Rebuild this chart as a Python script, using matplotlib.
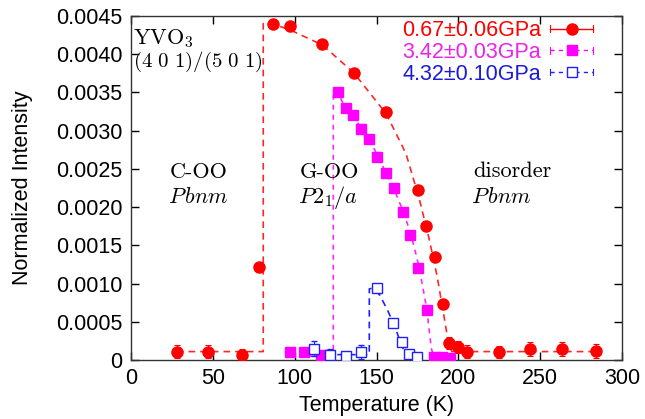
import numpy as np
import matplotlib
matplotlib.use("Agg")
import matplotlib.pyplot as plt
from matplotlib.lines import Line2D
from matplotlib.legend_handler import HandlerLine2D

plt.rcParams['mathtext.fontset'] = 'cm'
plt.rcParams['font.family'] = ['Liberation Sans', 'DejaVu Sans']

# ---------------- data ----------------
red_T = [28, 47, 68, 78, 86.5, 97, 117, 136, 156, 175.5, 180.5, 185.5, 190.5, 194.5, 199.5, 205, 225, 244, 263.5, 284]
red_I = [0.00011, 0.00011, 0.00007, 0.00122, 0.00440, 0.00437, 0.00414, 0.00376, 0.00325, 0.00222,
         0.00175, 0.00135, 0.00073, 0.00022, 0.00017, 0.00011, 0.00010, 0.00014, 0.00014, 0.00012]
red_err = [0.00009, 0.00009, 0.00008, 0.00005, 0.00004, 0.00004, 0.00004, 0.00004, 0.00004, 0.00004,
           0.00004, 0.00004, 0.00005, 0.00008, 0.00008, 0.00008, 0.00008, 0.00009, 0.00009, 0.00009]
red_guide_T = [28, 80.8, 80.8, 86, 97, 117, 136, 156, 168, 176, 182, 187, 191, 194, 196, 284]
red_guide_I = [0.00011, 0.00011, 0.00440, 0.00440, 0.00432, 0.00412, 0.00376, 0.00322, 0.00270,
               0.00212, 0.00160, 0.00110, 0.00060, 0.00022, 0.00011, 0.00011]

mag_T = [97, 106, 116, 121, 126.3, 131.2, 135.9, 140.6, 145.6, 150.5, 155.6, 160.9, 166.4, 170.5,
         175.5, 180.6, 185, 190, 195]
mag_I = [0.00010, 0.00010, 0.00006, 0.00007, 0.00350, 0.00329, 0.00321, 0.00302, 0.00289, 0.00266,
         0.00244, 0.00225, 0.00194, 0.00164, 0.00120, 0.00065, 0.00004, 0.00004, 0.00003]
mag_err = [0.00004] * 4 + [0.00002] * 12 + [0.00003] * 3
mag_guide_T = [97, 123.6, 123.6, 126.3, 131, 136, 141, 146, 151, 156, 161, 166, 171, 176, 180.6, 183.5, 185, 195]
mag_guide_I = [0.00005, 0.00005, 0.00352, 0.00350, 0.00330, 0.00318, 0.00303, 0.00287, 0.00266,
               0.00244, 0.00222, 0.00196, 0.00165, 0.00122, 0.00068, 0.00015, 0.00005, 0.00005]

blue_T = [111.8, 121.6, 131.4, 140.3, 150.6, 160.3, 165.8, 169.8, 174.9]
blue_I = [0.00015, 0.00007, 0.00005, 0.00010, 0.00094, 0.00049, 0.00024, 0.00008, 0.00004]
blue_err = [0.00010, 0.00008, 0.00006, 0.00009, 0.00003, 0.00003, 0.00003, 0.00004, 0.00004]
blue_guide_T = [111.8, 145.6, 145.6, 147.5, 152, 157, 161, 164, 167, 170, 175]
blue_guide_I = [0.00007, 0.00007, 0.00093, 0.00094, 0.00085, 0.00064, 0.00045, 0.00027, 0.00011, 0.00006, 0.00006]

labels = ['0.67\u00b10.06GPa', '3.42\u00b10.03GPa', '4.32\u00b10.10GPa']
xticks = [0, 50, 100, 150, 200, 250, 300]
yticks = [0, 0.0005, 0.0010, 0.0015, 0.0020, 0.0025, 0.0030, 0.0035, 0.0040, 0.0045]
ytick_labels = ['0', '0.0005', '0.0010', '0.0015', '0.0020', '0.0025', '0.0030', '0.0035', '0.0040', '0.0045']

RED = '#ff0000'
MAG = '#ff00ff'
BLUE = '#1f1fff'

# ---------------- figure ----------------
fig = plt.figure(figsize=(6.45, 4.19), dpi=100)
ax = fig.add_axes([131/645, 1 - 360/419, (622 - 131)/645, (360 - 16)/419])

# guide lines
ax.plot(red_guide_T, red_guide_I, ls=(0, (4, 3)), color=RED, lw=1.2, alpha=0.85, zorder=2)
ax.plot(mag_guide_T, mag_guide_I, ls=(0, (3, 3)), color=MAG, lw=1.2, alpha=0.85, zorder=2)
ax.plot(blue_guide_T, blue_guide_I, ls=(0, (4, 3)), color=BLUE, lw=1.2, zorder=2)

# data
ax.errorbar(red_T, red_I, yerr=red_err, fmt='o', color=RED, ms=8, capsize=2.5, elinewidth=0.8,
            capthick=0.8, zorder=3)
ax.errorbar(mag_T, mag_I, yerr=mag_err, fmt='s', color=MAG, ms=7.5, capsize=2.5, elinewidth=0.8,
            capthick=0.8, zorder=4)
ax.errorbar(blue_T, blue_I, yerr=blue_err, fmt='s', color=BLUE, mfc='white', mec=BLUE, mew=1.0, ms=7.5,
            capsize=2.5, elinewidth=0.8, capthick=0.8, zorder=5)

ax.set_xlim(0, 300)
ax.set_ylim(0, 0.0045)
ax.set_xticks(xticks)
ax.set_yticks(yticks)
ax.set_yticklabels(ytick_labels)
ax.tick_params(direction='in', length=6, width=1, top=True, right=True, labelsize=15.5, pad=6)
for s in ax.spines.values():
    s.set_linewidth(1.0)
    s.set_color('#333333')
ax.set_xlabel('Temperature (K)', fontsize=15.5, labelpad=4)
ax.set_ylabel('Normalized Intensity', fontsize=15.5, labelpad=17)

# annotations
ax.text(1.5, 0.00413, r'YVO$_3$', fontsize=16, family='cmr10', va='baseline', ha='left')
ax.text(1.5, 0.00383, r'$\mathrm{(4\ 0\ 1)/(5\ 0\ 1)}$', fontsize=15, va='baseline', ha='left')
ax.text(23.8, 0.00238, 'C-OO', fontsize=16, family='cmr10', va='baseline', ha='left')
ax.text(22.6, 0.00205, r'$P\hspace{0.12}bnm$', fontsize=16, va='baseline', ha='left')
ax.text(103.2, 0.00238, 'G-OO', fontsize=16, family='cmr10', va='baseline', ha='left')
ax.text(102, 0.00205, r'$P2_1/a$', fontsize=16, va='baseline', ha='left')
ax.text(209, 0.00240, 'disorder', fontsize=16, family='cmr10', va='baseline', ha='left')
ax.text(208, 0.00205, r'$P\hspace{0.12}bnm$', fontsize=16, va='baseline', ha='left')


class CapHandler(HandlerLine2D):
    def create_artists(self, legend, orig_handle, xdescent, ydescent, width, height, fontsize, trans):
        arts = super().create_artists(legend, orig_handle, xdescent, ydescent, width, height, fontsize, trans)
        y = (height - ydescent) / 2
        c = height * 0.22
        for x in (-xdescent, -xdescent + width):
            arts.append(Line2D([x, x], [y - c, y + c], color=orig_handle.get_color(), lw=0.8,
                               transform=trans))
        return arts


h1 = Line2D([], [], color=RED, ls='-', lw=1.0, marker='o', ms=8)
h2 = Line2D([], [], color=MAG, ls=(0, (3, 3)), lw=1.0, marker='s', ms=7.5)
h3 = Line2D([], [], color=BLUE, ls=(0, (3, 3)), lw=1.0, marker='s', ms=7.5, mfc='white', mec=BLUE)
leg = ax.legend([h1, h2, h3], labels, loc='upper right', bbox_to_anchor=(0.968, 1.025),
                markerfirst=False, frameon=False, numpoints=1, fontsize=15.5,
                handlelength=2.0, handletextpad=0.45, labelspacing=0.03, borderaxespad=0.2,
                handler_map={Line2D: CapHandler()})
for t, c in zip(leg.get_texts(), [RED, '#ee22ee', '#1a1ad8']):
    t.set_color(c)

fig.savefig('out.png', dpi=100)
